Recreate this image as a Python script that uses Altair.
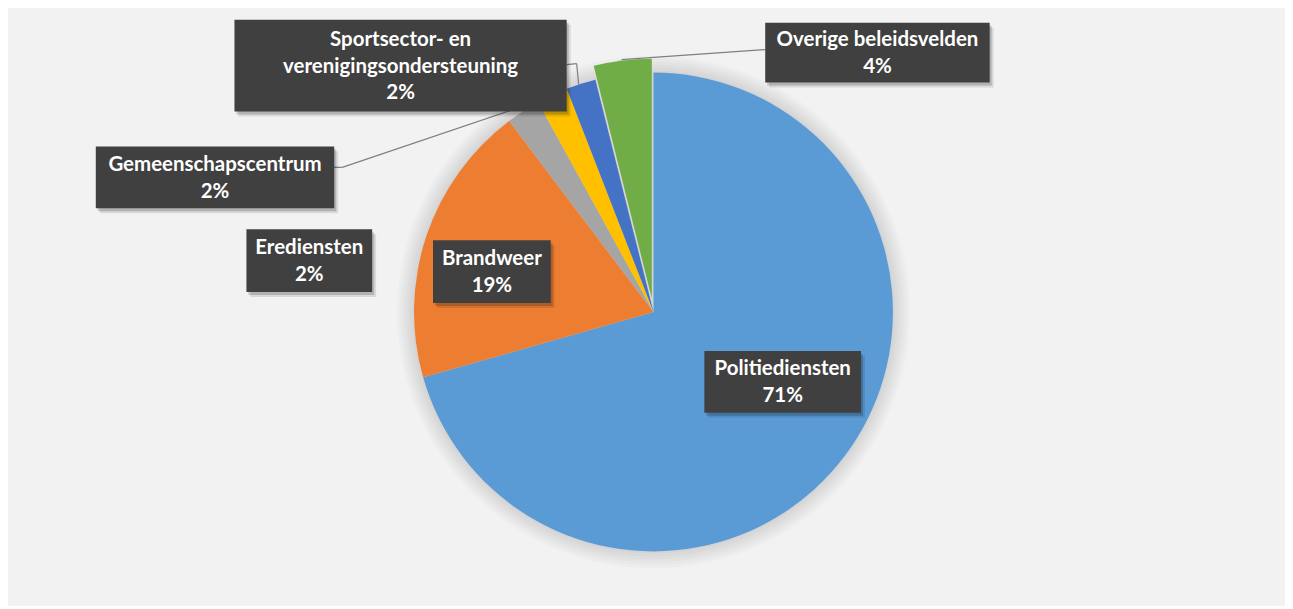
import altair as alt
import pandas as pd

# ---- data ----
categories = ["Politiediensten", "Brandweer", "Erediensten", "Gemeenschapscentrum",
              "Sportsector- en verenigingsondersteuning", "Overige beleidsvelden"]
shares = [70.6, 19.1, 2.3, 2.1, 2.0, 3.9]
pct_labels = ["71%", "19%", "2%", "2%", "2%", "4%"]
label_names = ["Politiediensten", "Brandweer", "Erediensten", "Gemeenschapscentrum",
               "Sportsector- en\nverenigingsondersteuning", "Overige beleidsvelden"]

# ---- styling / layout ----
colors = ["#5b9bd5", "#ed7d31", "#a5a5a5", "#ffc000", "#4472c4", "#70ad47"]
W, H = 1280, 598
OFF = 8  # page margin
CX, CY, R = 655 - OFF, 312 - OFF, 240
EXPLODED = "Overige beleidsvelden"
EXP_DX, EXP_DY = -1.7, -13.9
LINE_H = 27
FONT_SIZE = 20.5
# label boxes in page pixels: x1, x2, y1, y2
boxes = [
    (706, 863, 351, 413),
    (434, 552, 240, 303),
    (247, 373, 229, 292),
    (96, 335, 146, 208),
    (235, 568, 19, 111),
    (767, 992, 22, 82),
]
# leader line segments in page pixels
leaders = [
    (331, 167, 343, 167), (343, 167, 556, 95),
    (568, 64, 578, 63), (578, 63, 580, 84),
    (623, 59, 767, 49),
]
shadow_radii = [242, 245, 248, 251, 254, 257]

pie_df = pd.DataFrame({"cat": categories, "share": shares, "idx": list(range(len(categories)))})

texts = [f"{n}\n{p}" for n, p in zip(label_names, pct_labels)]
lab_df = pd.DataFrame({
    "cat": categories,
    "text": texts,
    "x1": [b[0] - OFF for b in boxes],
    "x2": [b[1] - OFF for b in boxes],
    "y1": [b[2] - OFF for b in boxes],
    "y2": [b[3] - OFF for b in boxes],
})
nlines = [t.count("\n") + 1 for t in texts]
lab_df["xc"] = (lab_df.x1 + lab_df.x2) / 2
lab_df["yc"] = (lab_df.y1 + lab_df.y2) / 2 + 1 - pd.Series([(n - 1) * LINE_H / 2 for n in nlines])

lead_df = pd.DataFrame([(a - OFF, b - OFF, c - OFF, d - OFF) for a, b, c, d in leaders],
                       columns=["x1", "y1", "x2", "y2"])

xs = alt.Scale(domain=[0, W], nice=False, zero=False)
ys = alt.Scale(domain=[0, H], nice=False, zero=False, reverse=True)

color_enc = alt.Color("cat:N", scale=alt.Scale(domain=categories, range=colors), legend=None)
theta_enc = alt.Theta("share:Q", stack=True)
order_enc = alt.Order("idx:Q")

shadow_layers = [
    alt.Chart(pie_df.head(1)).mark_arc(radius=r, theta=0, theta2=6.2832, color="#000000", opacity=0.018)
    .encode(x=alt.value(CX), y=alt.value(CY))
    for r in shadow_radii
]

pie = alt.Chart(pie_df).mark_arc(radius=R).encode(
    theta=theta_enc, order=order_enc, color=color_enc,
    x=alt.value(CX), y=alt.value(CY),
    opacity=alt.condition(alt.datum.cat == EXPLODED, alt.value(0), alt.value(1)),
)
pie_exp = alt.Chart(pie_df).mark_arc(radius=R).encode(
    theta=theta_enc, order=order_enc, color=color_enc,
    x=alt.value(CX + EXP_DX), y=alt.value(CY + EXP_DY),
    opacity=alt.condition(alt.datum.cat == EXPLODED, alt.value(1), alt.value(0)),
)

lines = alt.Chart(lead_df).mark_rule(color="#7f7f7f", strokeWidth=1.2).encode(
    x=alt.X("x1:Q", scale=xs, axis=None), y=alt.Y("y1:Q", scale=ys, axis=None),
    x2="x2:Q", y2="y2:Q",
)

def shadow(dx, dy, op):
    return alt.Chart(lab_df).transform_calculate(
        sx1=f"datum.x1 + {dx}", sx2=f"datum.x2 + {dx}",
        sy1=f"datum.y1 + {dy}", sy2=f"datum.y2 + {dy}",
    ).mark_rect(color="#000000", opacity=op).encode(
        x=alt.X("sx1:Q", scale=xs, axis=None), x2="sx2:Q",
        y=alt.Y("sy1:Q", scale=ys, axis=None), y2="sy2:Q",
    )

box = alt.Chart(lab_df).mark_rect(color="#404040").encode(
    x=alt.X("x1:Q", scale=xs, axis=None), x2="x2:Q",
    y=alt.Y("y1:Q", scale=ys, axis=None), y2="y2:Q",
)

text = alt.Chart(lab_df).mark_text(
    font="Lato", fontWeight="bold", fontSize=FONT_SIZE, color="#ffffff",
    align="center", baseline="middle", lineBreak="\n", lineHeight=LINE_H,
).encode(
    x=alt.X("xc:Q", scale=xs, axis=None), y=alt.Y("yc:Q", scale=ys, axis=None),
    text="text:N",
)

chart = alt.layer(
    *shadow_layers, pie, pie_exp, lines,
    shadow(4, 5, 0.10), shadow(2, 3, 0.18), box, text,
).properties(
    width=W, height=H, background="#f2f2f2", padding=0,
).configure_view(stroke=None)

chart.save("out.html", embed_options={"renderer": "svg", "actions": False})
